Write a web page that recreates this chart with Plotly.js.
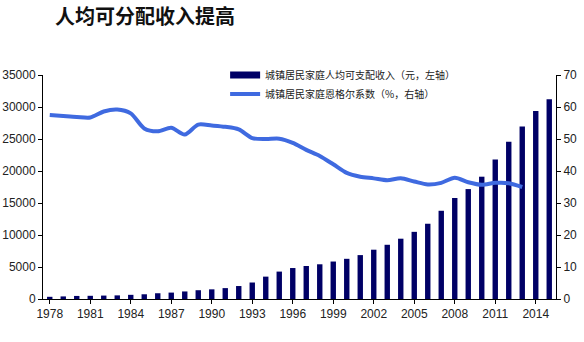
<!DOCTYPE html>
<html><head><meta charset="utf-8">
<script src="https://cdn.plot.ly/plotly-3.0.1.min.js"></script>
<style>html,body{margin:0;padding:0;background:#fff;}#chart{width:584px;height:342px;}</style>
</head><body><div id="chart"></div>
<script>
const years = [1978,1979,1980,1981,1982,1983,1984,1985,1986,1987,1988,1989,1990,1991,1992,1993,1994,1995,1996,1997,1998,1999,2000,2001,2002,2003,2004,2005,2006,2007,2008,2009,2010,2011,2012,2013,2014,2015];
const income = [343,405,478,500,535,565,652,739,900,1002,1180,1374,1510,1701,2027,2577,3496,4283,4839,5160,5425,5854,6280,6860,7703,8472,9422,10493,11759,13786,15781,17175,19109,21810,24565,26955,29381,31195];
const engelYears = [1978,1979,1980,1981,1982,1983,1984,1985,1986,1987,1988,1989,1990,1991,1992,1993,1994,1995,1996,1997,1998,1999,2000,2001,2002,2003,2004,2005,2006,2007,2008,2009,2010,2011,2012,2013];
const engel = [57.5,57.2,56.9,56.7,58.6,59.2,58.0,53.3,52.4,53.5,51.4,54.5,54.2,53.8,53.0,50.3,50.0,50.1,48.8,46.6,44.7,42.1,39.4,38.2,37.7,37.1,37.7,36.7,35.8,36.3,37.9,36.5,35.7,36.3,36.2,35.0];
const tickYears = [1978,1981,1984,1987,1990,1993,1996,1999,2002,2005,2008,2011,2014];
const leftTicks = [0,5000,10000,15000,20000,25000,30000,35000];
const rightTicks = [0,10,20,30,40,50,60,70];
const barName = '城镇居民家庭人均可支配收入（元，左轴）';
const lineName = '城镇居民家庭恩格尔系数（%，右轴）';
const titleText = '人均可分配收入提高';

const axisFont = {family:'Liberation Sans, Arial, sans-serif', size:12, color:'#222'};
const data = [
  {type:'bar', x:years, y:income, name:barName, marker:{color:'#000066'}, width:0.4, yaxis:'y', showlegend:false},
  {type:'scatter', mode:'lines', x:[null], y:[null], name:barName, yaxis:'y',
   line:{color:'#000066', width:7}, hoverinfo:'skip'},
  {type:'scatter', mode:'lines', x:engelYears, y:engel, name:lineName, yaxis:'y2',
   line:{color:'#3f6ae0', width:4, shape:'spline', smoothing:0.8}}
];
const layout = {
  width:584, height:342,
  margin:{l:43, r:28, t:75, b:43},
  paper_bgcolor:'#fff', plot_bgcolor:'#fff',
  title:{text:titleText, x:0.094, xanchor:'left', y:0.95, yanchor:'middle',
    font:{family:'Noto Sans CJK SC, sans-serif', size:20, color:'#111', weight:'bold'}},
  showlegend:true,
  legend:{x:0.355, xanchor:'left', y:1.065, yanchor:'top', bgcolor:'rgba(0,0,0,0)',
    font:{family:'Noto Sans CJK SC, sans-serif', size:10, color:'#222'}, tracegroupgap:0, itemwidth:30},
  xaxis:{range:[1977.5,2015.5], tickmode:'array', tickvals:tickYears, ticktext:tickYears.map(String),
    showgrid:false, zeroline:false, showline:true, linecolor:'#000', linewidth:1,
    ticks:'outside', ticklen:4, tickcolor:'#000', tickfont:axisFont},
  yaxis:{range:[0,35000], tickmode:'array', tickvals:leftTicks, ticktext:leftTicks.map(String), showgrid:false, zeroline:false,
    showline:true, linecolor:'#000', linewidth:1, ticks:'outside', ticklen:4, tickcolor:'#000', tickfont:axisFont},
  yaxis2:{range:[0,70], overlaying:'y', side:'right', tickmode:'array', tickvals:rightTicks, ticktext:rightTicks.map(String), showgrid:false, zeroline:false,
    showline:true, linecolor:'#000', linewidth:1, ticks:'outside', ticklen:4, tickcolor:'#000', tickfont:axisFont}
};
Plotly.newPlot('chart', data, layout, {displayModeBar:false, staticPlot:true});
</script></body></html>
